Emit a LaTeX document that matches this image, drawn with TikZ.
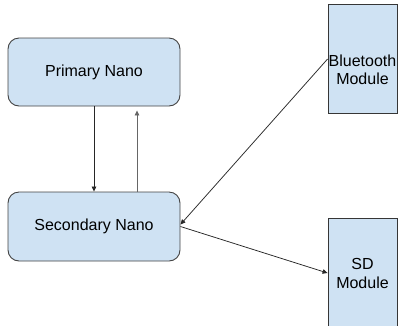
\documentclass[tikz,border=0pt]{standalone}
\usepackage{fontspec}
\setmainfont{Liberation Sans}
\usetikzlibrary{arrows.meta}
\definecolor{boxfill}{HTML}{CFE2F3}
\definecolor{boxline}{HTML}{434343}
\begin{document}
\begin{tikzpicture}[x=1pt,y=-1pt,
  nano/.style={draw=boxline,line width=0.9pt,fill=boxfill,rounded corners=11pt,
    minimum width=172pt,minimum height=68pt,inner sep=0pt,
    font=\fontsize{16}{18.4}\selectfont},
  modbox/.style={draw=boxline!80!black,line width=0.9pt,fill=boxfill,inner sep=0pt,
    minimum width=69pt},
  txt/.style={align=center,inner sep=0pt,font=\fontsize{16}{18.4}\selectfont},
  arr/.style={-{Triangle[length=5pt,width=4.5pt]},line width=0.75pt,draw=black!85}]
\useasboundingbox (0,0) rectangle (398,325);
\node[nano] (p) at (94,72) {Primary Nano};
\node[nano,minimum height=69pt] (s) at (94,226.5) {Secondary Nano};
\node[modbox,minimum height=108.5pt] (bt) at (362.5,59) {};
\node[txt] (btt) at (362.5,70) {Bluetooth\\Module};
\node[modbox,minimum height=110pt] (sd) at (362.5,273) {};
\node[txt] (sdt) at (362.5,273.5) {SD\\Module};
\draw[arr] (p.south) -- (s.north);
\draw[arr,draw=black!60] ([xshift=43pt]s.north) -- ([xshift=43pt,yshift=-4pt]p.south);
\draw[arr] (bt.west) -- ([yshift=2pt]s.east);
\draw[arr] (s.east) -- (sd.west);
\end{tikzpicture}
\end{document}
